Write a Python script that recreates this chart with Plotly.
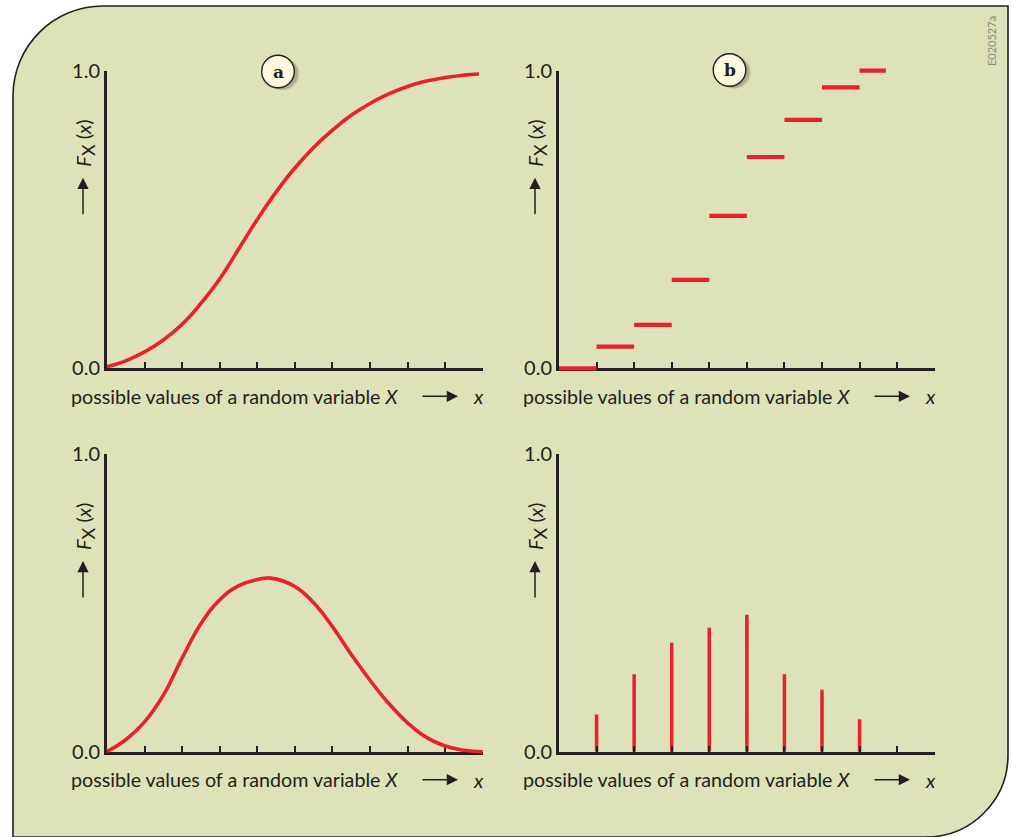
import plotly.graph_objects as go

W, H = 1012, 837

# ---- data -----------------------------------------------------------------
# (a) continuous distribution function
cdf_x = [0, 0.5, 1, 1.5, 2, 2.5, 3, 3.5, 4, 4.5, 5, 5.5, 6, 6.5, 7, 7.5, 8, 8.5, 9, 9.5, 9.9]
cdf_y = [0.005, 0.025, 0.055, 0.095, 0.148, 0.218, 0.300, 0.400, 0.500, 0.592, 0.673,
         0.742, 0.800, 0.850, 0.890, 0.922, 0.947, 0.965, 0.977, 0.985, 0.989]

# (b) step distribution function
step_left = [0, 1, 2, 3, 4, 5, 6, 7, 8]
step_right = [1, 2, 3, 4, 5, 6, 7, 8, 8.7]
step_level = [0, 0.073, 0.146, 0.297, 0.512, 0.71, 0.835, 0.944, 1.0]

# density curve below (a)
pdf_x = [0, 0.5, 1, 1.5, 2, 2.5, 3, 3.5, 4, 4.35, 5, 5.5, 6, 6.5, 7, 7.5, 8, 8.5, 9, 9.5, 10]
pdf_y = [0, 0.04, 0.10, 0.19, 0.315, 0.43, 0.51, 0.557, 0.578, 0.583, 0.555, 0.50,
         0.42, 0.327, 0.24, 0.162, 0.097, 0.048, 0.019, 0.005, 0]

# probability masses below (b)
stem_x = [1, 2, 3, 4, 5, 6, 7, 8]
stem_h = [0.125, 0.26, 0.366, 0.416, 0.46, 0.26, 0.208, 0.109]

x_ticks = list(range(1, 11))
y_tickvals = [0, 1]
y_ticktext = ["0.0", "1.0"]
x_label = "possible values of a random variable <i>X</i>"
y_label = "<i>F</i><sub><span style='font-size:18px'>X</span></sub> (<i>x</i>)"
panel_tags = ["a", "b"]

# ---- style ----------------------------------------------------------------
RED = "#E8212B"
INK = "#231f20"
BG = "#DDE2B8"
FONT = "Lato"
FS = 20
XR = (0, 10)
YR = (0, 1)


def px(x):
    return x / W


def py(y):
    return 1 - y / H


# pixel frames of the four panels: (left, right, top(1.0), bottom(0.0))
frames = {
    1: (107, 482.7, 70.7, 368.3),
    2: (559, 934.7, 70.7, 368.3),
    3: (107, 482.7, 454, 751.7),
    4: (559, 934.7, 454, 751.7),
}

layout = dict(
    width=W, height=H,
    margin=dict(l=0, r=0, t=0, b=0, pad=0, autoexpand=False),
    paper_bgcolor="white",
    plot_bgcolor="rgba(0,0,0,0)",
    showlegend=False,
    font=dict(family=FONT, color=INK, size=FS),
)

annotations = []
shapes = []

# rounded background panel
L, T, R, B = 13, 6, 1008, 840
r1, r2 = 90, 82
k = 0.5523
pts = [
    f"M{px(L)},{py(B)}",
    f"L{px(L)},{py(T + r1)}",
    f"C{px(L)},{py(T + r1 - k * r1)} {px(L + r1 - k * r1)},{py(T)} {px(L + r1)},{py(T)}",
    f"L{px(R)},{py(T)}",
    f"L{px(R)},{py(B - 3 - r2)}",
    f"C{px(R)},{py(B - 3 - r2 + k * r2)} {px(R - r2 + k * r2)},{py(B - 3)} {px(R - r2)},{py(B - 3)}",
    f"L{px(L)},{py(B - 3)}",
    "Z",
]
shapes.append(dict(type="path", xref="paper", yref="paper", path=" ".join(pts),
                   fillcolor=BG, line=dict(color=INK, width=1.6), layer="below"))

fig = go.Figure()

# visible frames: axis lines, ticks and labels
for i, (left, right, top, bottom) in frames.items():
    sfx = "" if i == 1 else str(i)
    layout[f"xaxis{sfx}"] = dict(
        domain=[px(left), px(right)], range=list(XR), anchor=f"y{sfx}",
        showgrid=False, zeroline=False, showline=True, linecolor=INK, linewidth=3,
        ticks="inside", tickvals=x_ticks, ticklen=6, tickwidth=1.6, tickcolor=INK,
        showticklabels=False, fixedrange=True,
    )
    layout[f"yaxis{sfx}"] = dict(
        domain=[py(bottom), py(top)], range=list(YR), anchor=f"x{sfx}",
        showgrid=False, zeroline=False, showline=True, linecolor=INK, linewidth=3,
        ticks="inside", tickvals=y_tickvals, ticktext=y_ticktext, ticklen=8, tickwidth=1.8,
        tickcolor=INK, tickfont=dict(family=FONT, size=FS, color=INK), fixedrange=True,
    )
    # an empty trace registers the frame as a subplot so its axes are drawn
    fig.add_trace(go.Scatter(x=[], y=[], mode="lines", xaxis=f"x{sfx}", yaxis=f"y{sfx}",
                             hoverinfo="skip"))

    # x-axis caption with arrow
    ly = bottom + 28
    annotations.append(dict(x=px(left - 38), y=py(ly), xref="paper", yref="paper", text=x_label,
                            showarrow=False, xanchor="left", yanchor="middle",
                            font=dict(family=FONT, size=19.7, color=INK)))
    annotations.append(dict(x=px(left + 351), y=py(ly), xref="paper", yref="paper", text="",
                            showarrow=True, ax=-37, ay=0, arrowhead=2, arrowsize=1.5,
                            arrowwidth=1.5, arrowcolor=INK, standoff=0))
    annotations.append(dict(x=px(left + 371), y=py(ly), xref="paper", yref="paper", text="<i>x</i>",
                            showarrow=False, xanchor="center", yanchor="middle",
                            font=dict(family=FONT, size=FS, color=INK)))

    # y-axis caption with arrow
    annotations.append(dict(x=px(left - 22), y=py(top + 73), xref="paper", yref="paper", text=y_label,
                            showarrow=False, textangle=-90, xanchor="center", yanchor="middle",
                            font=dict(family=FONT, size=FS, color=INK)))
    annotations.append(dict(x=px(left - 24), y=py(top + 107), xref="paper", yref="paper", text="",
                            showarrow=True, ax=0, ay=38, arrowhead=2, arrowsize=1.5,
                            arrowwidth=1.5, arrowcolor=INK, standoff=0))


# unclipped drawing layers: same data scale as a frame, padded so thick lines
# lying on an axis edge are drawn in full, and painted over the axis lines
PAD = 8


def drawing_axes(n, frame_id):
    left, right, top, bottom = frames[frame_id]
    ux = (XR[1] - XR[0]) / (right - left)
    uy = (YR[1] - YR[0]) / (bottom - top)
    layout[f"xaxis{n}"] = dict(domain=[px(left - PAD), px(right + PAD)],
                               range=[XR[0] - PAD * ux, XR[1] + PAD * ux], anchor=f"y{n}",
                               visible=False, fixedrange=True)
    layout[f"yaxis{n}"] = dict(domain=[py(bottom + PAD), py(top - PAD)],
                               range=[YR[0] - PAD * uy, YR[1] + PAD * uy], anchor=f"x{n}",
                               visible=False, fixedrange=True)
    return f"x{n}", f"y{n}"


# masses (kept under the tick marks of their frame)
mx, my = [], []
for xv, h in zip(stem_x, stem_h):
    mx += [xv, xv, None]
    my += [0, h, None]
fig.add_trace(go.Scatter(x=mx, y=my, mode="lines", line=dict(color=RED, width=3.5),
                         xaxis="x4", yaxis="y4", hoverinfo="skip"))

# (a)
xa, ya = drawing_axes(5, 1)
fig.add_trace(go.Scatter(x=cdf_x, y=cdf_y, mode="lines",
                         line=dict(color=RED, width=3.6, shape="spline", smoothing=1.3),
                         xaxis=xa, yaxis=ya, hoverinfo="skip"))
# (b)
xa, ya = drawing_axes(6, 2)
sx, sy = [], []
for l, r, v in zip(step_left, step_right, step_level):
    sx += [l, r, None]
    sy += [v, v, None]
fig.add_trace(go.Scatter(x=sx, y=sy, mode="lines", line=dict(color=RED, width=4.2),
                         xaxis=xa, yaxis=ya, hoverinfo="skip"))
# density
xa, ya = drawing_axes(7, 3)
fig.add_trace(go.Scatter(x=pdf_x, y=pdf_y, mode="lines",
                         line=dict(color=RED, width=3.6, shape="spline", smoothing=1.3),
                         xaxis=xa, yaxis=ya, hoverinfo="skip"))

# circled panel tags
for tag, (cx, cy) in zip(panel_tags, [(278, 71.5), (729.5, 70)]):
    rr = 16.3
    for off, alpha in [(5, 0.18), (3.5, 0.25)]:
        shapes.append(dict(type="circle", xref="paper", yref="paper",
                           x0=px(cx - rr + off), x1=px(cx + rr + off),
                           y0=py(cy + rr + off * 0.5), y1=py(cy - rr + off * 0.5),
                           fillcolor=f"rgba(90,90,60,{alpha})", line=dict(width=0), layer="above"))
    shapes.append(dict(type="circle", xref="paper", yref="paper",
                       x0=px(cx - rr), x1=px(cx + rr), y0=py(cy + rr), y1=py(cy - rr),
                       fillcolor="#FDF9DE", line=dict(color=INK, width=1.4), layer="above"))
    annotations.append(dict(x=px(cx), y=py(cy), xref="paper", yref="paper", text=f"<b>{tag}</b>",
                            showarrow=False, xanchor="center", yanchor="middle",
                            font=dict(family="DejaVu Serif", size=17, color=INK)))

# figure code along the right edge
annotations.append(dict(x=px(992), y=py(41), xref="paper", yref="paper", text="E020527a",
                        showarrow=False, textangle=-90, xanchor="center", yanchor="middle",
                        font=dict(family=FONT, size=11, color="#8a8a80")))

layout["annotations"] = annotations
layout["shapes"] = shapes
fig.update_layout(**layout)

fig.write_html("out.html", config={"displayModeBar": False})
